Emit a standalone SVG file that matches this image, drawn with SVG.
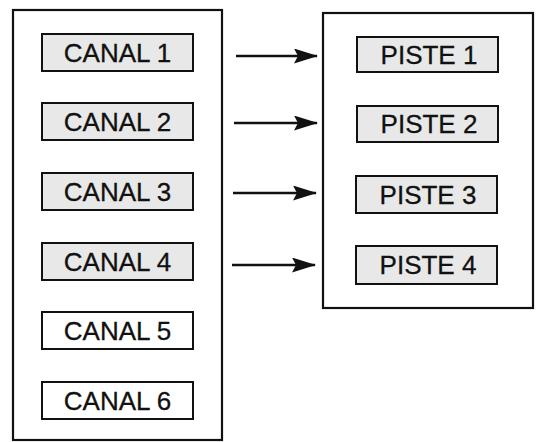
<svg xmlns="http://www.w3.org/2000/svg" width="536" height="442" viewBox="0 0 536 442">
<style>
.outer{fill:#fff;stroke:#111;stroke-width:2.2}
.box{stroke:#111;stroke-width:2}
.g{fill:#e8e8e8}
.w{fill:#fff}
.t{font-family:"Liberation Sans",Arial,sans-serif;font-size:26px;fill:#111;stroke:#111;stroke-width:0.3;text-anchor:middle}
.c{stroke:#111;stroke-width:2.5;fill:none;marker-end:url(#ah)}
</style>
<defs>
<marker id="ah" viewBox="0 0 24 15" refX="23" refY="7.5" markerWidth="24" markerHeight="15" markerUnits="userSpaceOnUse" orient="auto">
<path d="M0,0 L24,7.5 L0,15 L4,7.5 Z" fill="#111"/>
</marker>
</defs>
<rect width="536" height="442" fill="#fff"/>
<g id="canaux">
<rect class="outer" x="13" y="10" width="209" height="430"/>
</g>
<g id="pistes">
<rect class="outer" x="323" y="13" width="210" height="295"/>
</g>
<g id="canal1"><rect class="box g" x="42" y="34" width="151" height="37"/><text class="t" x="117.5" y="62">CANAL 1</text></g>
<g id="canal2"><rect class="box g" x="42" y="103" width="151" height="37"/><text class="t" x="117.5" y="131">CANAL 2</text></g>
<g id="canal3"><rect class="box g" x="42" y="173" width="151" height="37"/><text class="t" x="117.5" y="201">CANAL 3</text></g>
<g id="canal4"><rect class="box g" x="42" y="243" width="151" height="37"/><text class="t" x="117.5" y="271">CANAL 4</text></g>
<g id="canal5"><rect class="box w" x="42" y="312" width="151" height="37"/><text class="t" x="117.5" y="340">CANAL 5</text></g>
<g id="canal6"><rect class="box w" x="42" y="382" width="151" height="37"/><text class="t" x="117.5" y="410">CANAL 6</text></g>
<g id="piste1"><rect class="box g" x="357" y="37" width="141" height="35"/><text class="t" x="429" y="64">PISTE 1</text></g>
<g id="piste2"><rect class="box g" x="357" y="106" width="141" height="36"/><text class="t" x="429" y="133">PISTE 2</text></g>
<g id="piste3"><rect class="box g" x="356" y="176" width="141" height="37"/><text class="t" x="428" y="204">PISTE 3</text></g>
<g id="piste4"><rect class="box g" x="356" y="246" width="141" height="38"/><text class="t" x="428" y="274">PISTE 4</text></g>
<g id="connecteurs">
<line class="c" x1="236" y1="56" x2="317" y2="56"/>
<line class="c" x1="234" y1="123" x2="317" y2="123"/>
<line class="c" x1="233" y1="193" x2="316" y2="193"/>
<line class="c" x1="232" y1="265" x2="315" y2="265"/>
</g>
</svg>
